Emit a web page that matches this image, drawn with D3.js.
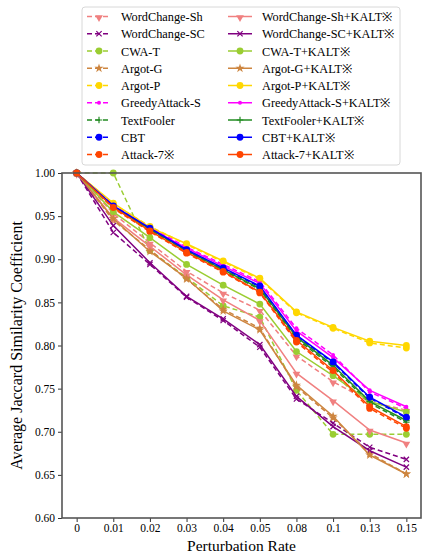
<!DOCTYPE html>
<html>
<head>
<meta charset="utf-8">
<script src="https://cdn.jsdelivr.net/npm/d3@7"></script>
<style>
  body { margin: 0; background: #fff; }
  text { font-family: "Liberation Serif", "Times New Roman", serif; fill: #000; }
</style>
</head>
<body>
<script>
// x categories (perturbation rates)
var rates = ["0", "0.01", "0.02", "0.03", "0.04", "0.05", "0.08", "0.1", "0.13", "0.15"];
var yTicks = [0.60, 0.65, 0.70, 0.75, 0.80, 0.85, 0.90, 0.95, 1.00];

// attack names, colours and markers
var attacks = ["WordChange-Sh", "WordChange-SC", "CWA-T", "Argot-G", "Argot-P", "GreedyAttack-S", "TextFooler", "CBT", "Attack-7\u203B"];
var kaltNames = ["WordChange-Sh+KALT\u203B", "WordChange-SC+KALT\u203B", "CWA-T+KALT\u203B", "Argot-G+KALT\u203B", "Argot-P+KALT\u203B", "GreedyAttack-S+KALT\u203B", "TextFooler+KALT\u203B", "CBT+KALT\u203B", "Attack-7+KALT\u203B"];
var colors = ["#F08080", "#800080", "#9ACD32", "#CD853F", "#FFD700", "#FF00FF", "#228B22", "#0000FF", "#FF4500"];
var markers = ["tri", "x", "circle", "star", "circle", "point", "plus", "circle", "circle"];

// base attacks (dashed)
var baseValues = [
    [1.0, 0.953, 0.919, 0.886, 0.861, 0.841, 0.788, 0.758, 0.735, 0.725],
    [1.0, 0.931, 0.894, 0.856, 0.829, 0.798, 0.738, 0.710, 0.682, 0.668],
    [1.0, 1.000, 0.910, 0.879, 0.846, 0.833, 0.748, 0.697, 0.697, 0.697],
    [1.0, 0.945, 0.911, 0.877, 0.842, 0.820, 0.752, 0.716, 0.675, 0.651],
    [1.0, 0.964, 0.938, 0.917, 0.897, 0.877, 0.838, 0.820, 0.803, 0.797],
    [1.0, 0.962, 0.937, 0.914, 0.894, 0.874, 0.820, 0.789, 0.746, 0.727],
    [1.0, 0.961, 0.934, 0.909, 0.887, 0.865, 0.808, 0.775, 0.733, 0.711],
    [1.0, 0.962, 0.936, 0.911, 0.889, 0.868, 0.811, 0.780, 0.739, 0.716],
    [1.0, 0.959, 0.932, 0.907, 0.885, 0.861, 0.804, 0.769, 0.727, 0.704]
];

// attacks + KALT (solid)
var kaltValues = [
    [1.0, 0.948, 0.915, 0.882, 0.853, 0.829, 0.768, 0.736, 0.702, 0.687],
    [1.0, 0.939, 0.896, 0.857, 0.831, 0.801, 0.741, 0.706, 0.678, 0.659],
    [1.0, 0.955, 0.925, 0.894, 0.870, 0.848, 0.793, 0.765, 0.735, 0.723],
    [1.0, 0.947, 0.909, 0.878, 0.840, 0.818, 0.754, 0.718, 0.673, 0.651],
    [1.0, 0.965, 0.937, 0.918, 0.898, 0.878, 0.839, 0.821, 0.805, 0.800],
    [1.0, 0.962, 0.936, 0.913, 0.892, 0.872, 0.817, 0.786, 0.748, 0.729],
    [1.0, 0.961, 0.935, 0.910, 0.888, 0.866, 0.810, 0.777, 0.735, 0.713],
    [1.0, 0.962, 0.936, 0.911, 0.890, 0.869, 0.812, 0.781, 0.740, 0.717],
    [1.0, 0.960, 0.933, 0.908, 0.886, 0.862, 0.806, 0.771, 0.729, 0.706]
];

var w = 423, h = 554;
var plotLeft = 62, plotRight = 421, plotTop = 173, plotBottom = 518;

var svg = d3.select("body").append("svg")
    .attr("width", w)
    .attr("height", h);

// x: index scale with matplotlib-like margins
var x = d3.scaleLinear()
    .domain([-0.4, rates.length - 0.6])
    .range([plotLeft, plotRight]);

var y = d3.scaleLinear()
    .domain([0.6, 1.0])
    .range([plotBottom, plotTop]);

var plot = svg.append("g");

plot.append("clipPath").attr("id", "clip")
    .append("rect")
    .attr("x", plotLeft).attr("y", plotTop - 6)
    .attr("width", plotRight - plotLeft + 6).attr("height", plotBottom - plotTop + 6);

// marker drawing helper
function drawMarker(g, type, color, px, py) {
    if (type === "circle") {
        g.append("circle").attr("cx", px).attr("cy", py).attr("r", 3.4).attr("fill", color);
    } else if (type === "point") {
        g.append("circle").attr("cx", px).attr("cy", py).attr("r", 2).attr("fill", color);
    } else if (type === "tri") {
        g.append("path").attr("d", d3.symbol(d3.symbolTriangle, 26)())
            .attr("transform", "translate(" + px + "," + (py + 1) + ") rotate(180)")
            .attr("fill", color);
    } else if (type === "star") {
        g.append("path").attr("d", d3.symbol(d3.symbolStar, 26)())
            .attr("transform", "translate(" + px + "," + py + ")")
            .attr("fill", color);
    } else if (type === "x") {
        g.append("path").attr("d", d3.symbol(d3.symbolX, 20)())
            .attr("transform", "translate(" + px + "," + py + ")")
            .attr("fill", "none").attr("stroke", color).attr("stroke-width", 1.2);
    } else if (type === "plus") {
        g.append("path").attr("d", d3.symbol(d3.symbolPlus, 16)())
            .attr("transform", "translate(" + px + "," + py + ")")
            .attr("fill", "none").attr("stroke", color).attr("stroke-width", 1.2);
    }
}

var line = d3.line()
    .x(function(d, i){ return x(i); })
    .y(function(d){ return y(d); });

var series = [];
baseValues.forEach(function(v, i){ series.push({ values: v, color: colors[i], marker: markers[i], dash: "5,3" }); });
kaltValues.forEach(function(v, i){ series.push({ values: v, color: colors[i], marker: markers[i], dash: null }); });

var dataLayer = plot.append("g").attr("clip-path", "url(#clip)");

series.forEach(function(s){
    var g = dataLayer.append("g");
    g.append("path")
        .attr("d", line(s.values))
        .attr("fill", "none")
        .attr("stroke", s.color)
        .attr("stroke-width", 1.5)
        .attr("stroke-dasharray", s.dash);
    s.values.forEach(function(v, i){
        drawMarker(g, s.marker, s.color, x(i), y(v));
    });
});

// axes
var xAxis = d3.axisBottom(x)
    .tickValues(d3.range(rates.length))
    .tickFormat(function(i){ return rates[i]; })
    .tickSize(4)
    .tickPadding(2)
    .tickSizeOuter(0);

var yAxis = d3.axisLeft(y)
    .tickValues(yTicks)
    .tickFormat(d3.format(".2f"))
    .tickSize(4)
    .tickSizeOuter(0);

var gx = svg.append("g")
    .attr("transform", "translate(0," + plotBottom + ")")
    .call(xAxis);
var gy = svg.append("g")
    .attr("transform", "translate(" + plotLeft + ",0)")
    .call(yAxis);

[gx, gy].forEach(function(g){
    g.select(".domain").remove();
    g.selectAll(".tick line").attr("stroke", "#333").attr("stroke-width", 1);
    g.selectAll(".tick text")
        .style("font-family", "'Liberation Serif', serif")
        .style("font-size", "11.5px")
        .attr("fill", "#000");
});

// frame
svg.append("rect")
    .attr("x", plotLeft).attr("y", plotTop)
    .attr("width", plotRight - plotLeft).attr("height", plotBottom - plotTop)
    .attr("fill", "none")
    .attr("stroke", "#555")
    .attr("stroke-width", 1.6);

// axis titles
svg.append("text")
    .attr("x", (plotLeft + plotRight) / 2)
    .attr("y", 551)
    .attr("text-anchor", "middle")
    .style("font-size", "15.5px")
    .text("Perturbation Rate");

svg.append("text")
    .attr("transform", "translate(22," + ((plotTop + plotBottom) / 2) + ") rotate(-90)")
    .attr("text-anchor", "middle")
    .style("font-size", "16px")
    .text("Average Jaccard Similarity Coefficient");

// legend
var legend = svg.append("g");
legend.append("rect")
    .attr("x", 82).attr("y", 7)
    .attr("width", 318).attr("height", 158)
    .attr("rx", 3)
    .attr("fill", "#fff")
    .attr("stroke", "#d8d8d8")
    .attr("stroke-width", 1);

var rowH = 17.25;
function legendItem(col, row, name, color, marker, dash) {
    var hx = col === 0 ? 87 : 228;
    var ly = 16.5 + row * rowH;
    var g = legend.append("g");
    g.append("line")
        .attr("x1", hx).attr("x2", hx + 24)
        .attr("y1", ly).attr("y2", ly)
        .attr("stroke", color)
        .attr("stroke-width", 1.5)
        .attr("stroke-dasharray", dash);
    drawMarker(g, marker, color, hx + 12, ly);
    g.append("text")
        .attr("x", hx + 34)
        .attr("y", ly + 4.5)
        .style("font-size", "12.3px")
        .text(name);
}

attacks.forEach(function(n, i){ legendItem(0, i, n, colors[i], markers[i], "5,3"); });
kaltNames.forEach(function(n, i){ legendItem(1, i, n, colors[i], markers[i], null); });
</script>
</body>
</html>
